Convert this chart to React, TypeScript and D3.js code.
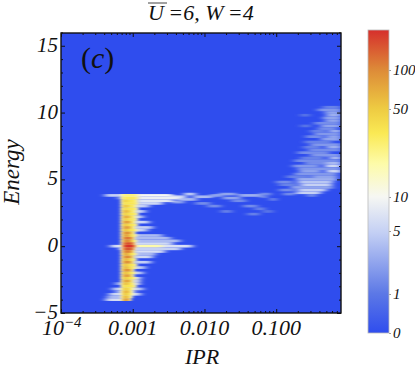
import { useEffect, useRef } from "react";
import * as d3 from "d3";

type Streak = [number, number, number, number]; // energy, ipr from, ipr to, count

const energyTicks = [-5, 0, 5, 10, 15];
const energyMinorTicks = [-4, -3, -2, -1, 1, 2, 3, 4, 6, 7, 8, 9, 11, 12, 13, 14, 16];
const iprTicks = [0.0001, 0.001, 0.01, 0.1];
const iprTickLabels = ["", "0.001", "0.010", "0.100"];
const iprMinorTicks = [
  0.0002, 0.0003, 0.0004, 0.0005, 0.0006, 0.0007, 0.0008, 0.0009, 0.002, 0.003, 0.004, 0.005,
  0.006, 0.007, 0.008, 0.009, 0.02, 0.03, 0.04, 0.05, 0.06, 0.07, 0.08, 0.09, 0.2, 0.3, 0.4, 0.5,
  0.6, 0.7,
];
const colorbarTicks = [0, 1, 5, 10, 50, 100];
const colorbarDomain = [0, 1, 5, 10, 50, 100, 250];

const colorFractions = [0, 0.13, 0.33, 0.45, 0.56, 0.66, 0.74, 0.87, 1];
const colorStops = [
  "#2f4dee", "#5c78e6", "#c3cff4", "#f6f7f3", "#fdfba8", "#fae954", "#eecb42", "#dd8a38", "#d62f2c",
];

const coreEnergies = [
  -4, -3.8, -3.6, -3.4, -3.2, -3, -2.8, -2.6, -2.4, -2.2, -2, -1.8, -1.6, -1.4, -1.2, -1, -0.8,
  -0.6, -0.4, -0.2, 0, 0.2, 0.4, 0.6, 0.8, 1, 1.2, 1.4, 1.6, 1.8, 2, 2.2, 2.4, 2.6, 2.8, 3, 3.2,
  3.4, 3.6, 3.8,
];
const coreCounts = [
  95, 70, 58, 72, 50, 44, 62, 85, 56, 92, 66, 98, 70, 60, 100, 72, 108, 80, 125, 190, 250, 200, 105,
  140, 88, 100, 62, 92, 58, 90, 56, 80, 52, 70, 46, 60, 42, 50, 38, 32,
];
const coreSpread = [
  0.00088, 0.00092, 0.00096, 0.00094, 0.00098, 0.00106, 0.00102, 0.00098, 0.00106, 0.00098,
  0.00104, 0.00098, 0.00106, 0.00108, 0.001, 0.00106, 0.001, 0.00108, 0.00102, 0.00102, 0.00108,
  0.00104, 0.00108, 0.00102, 0.00108, 0.00102, 0.0011, 0.00104, 0.0011, 0.00104, 0.0011, 0.00106,
  0.00112, 0.00106, 0.00112, 0.00108, 0.00114, 0.00112, 0.00116, 0.00116,
];
const coreBodyRight = [
  0.00088, 0.00086, 0.00084, 0.00088, 0.00085, 0.00083, 0.00087, 0.00092, 0.00085, 0.00092,
  0.00086, 0.00094, 0.00087, 0.00085, 0.00095, 0.00088, 0.00096, 0.00089, 0.00097, 0.00102,
  0.00106, 0.00102, 0.00095, 0.00098, 0.0009, 0.00094, 0.00086, 0.00092, 0.00085, 0.00092,
  0.00084, 0.0009, 0.00084, 0.00088, 0.00083, 0.00086, 0.00082, 0.00084, 0.00082, 0.00082,
];

const coreTails: Streak[] = [
  [3.8, 0.00041, 0.0011, 5], [3.8, 0.0011, 0.0036, 10], [3.6, 0.00062, 0.00075, 3],
  [3.6, 0.0011, 0.0045, 9], [3.4, 0.0011, 0.0036, 8], [3.2, 0.0011, 0.0026, 6],
  [3, 0.001, 0.0017, 5], [2.6, 0.001, 0.0015, 6], [2.2, 0.001, 0.0014, 6], [1.8, 0.001, 0.0017, 6],
  [1.4, 0.001, 0.0019, 5], [1.2, 0.001, 0.0016, 5], [0.8, 0.001, 0.0026, 4],
  [0.6, 0.001, 0.0034, 4], [0.4, 0.001, 0.0046, 4], [0.2, 0.0009, 0.0036, 6],
  [0, 0.00049, 0.0068, 7], [0, 0.001, 0.0026, 25], [-0.2, 0.00066, 0.0047, 5],
  [-0.4, 0.001, 0.0028, 7], [-0.6, 0.001, 0.0021, 4], [-0.8, 0.001, 0.0019, 6],
  [-1.2, 0.001, 0.0018, 5], [-1.6, 0.001, 0.0015, 5], [-2, 0.001, 0.0014, 5],
  [-2.4, 0.001, 0.0013, 6], [-2.6, 0.001, 0.00125, 12], [-2.8, 0.00058, 0.00075, 4],
  [-2.8, 0.001, 0.00125, 11], [-3.2, 0.00052, 0.0014, 5], [-3.4, 0.00058, 0.0011, 4],
  [-3.6, 0.00047, 0.0013, 6], [-3.8, 0.00044, 0.0009, 4], [-4, 0.00042, 0.0008, 7],
];

const bandStreaks: Streak[] = [
  [3.7, 0.0034, 0.0056, 6], [3.9, 0.0052, 0.0075, 5], [3.5, 0.0042, 0.0078, 4],
  [3.3, 0.0035, 0.0052, 3], [3.7, 0.007, 0.013, 4], [3.8, 0.012, 0.018, 3],
  [3.9, 0.016, 0.028, 3], [3.2, 0.0075, 0.012, 2], [3.6, 0.018, 0.032, 3],
  [3.8, 0.03, 0.062, 3.5], [3.4, 0.024, 0.038, 2], [3, 0.011, 0.017, 2], [3.9, 0.058, 0.085, 2],
  [2.6, 0.017, 0.024, 1.5], [3.7, 0.06, 0.075, 2], [3, 0.035, 0.055, 2], [2.4, 0.04, 0.058, 1.5],
  [2.8, 0.05, 0.07, 1.5], [3.5, 0.082, 0.1, 2], [2.6, 0.065, 0.09, 1],
];

const cloudStreaks: Streak[] = [
  [10.4, 0.45, 0.78, 1.5], [10.2, 0.38, 0.8, 2.5], [10, 0.48, 0.8, 3], [9.8, 0.22, 0.29, 1],
  [9.8, 0.5, 0.8, 3.5], [9.6, 0.45, 0.8, 3], [9.4, 0.48, 0.8, 3], [9.2, 0.34, 0.8, 2],
  [9, 0.22, 0.3, 1], [9, 0.42, 0.8, 3], [8.8, 0.38, 0.7, 2], [8.6, 0.3, 0.5, 1.5],
  [8.6, 0.55, 0.8, 3.5], [8.4, 0.34, 0.8, 2.5], [8.2, 0.26, 0.45, 2], [8.2, 0.5, 0.8, 3],
  [8, 0.42, 0.8, 3], [7.8, 0.25, 0.6, 1.5], [7.6, 0.3, 0.8, 2.5], [7.4, 0.24, 0.42, 1.5],
  [7.4, 0.5, 0.8, 3.5], [7.2, 0.28, 0.8, 2], [7, 0.2, 0.55, 2], [6.8, 0.3, 0.8, 2.5],
  [6.6, 0.22, 0.46, 1.5], [6.6, 0.55, 0.8, 4], [6.4, 0.18, 0.8, 2], [6.2, 0.25, 0.5, 2],
  [6.2, 0.5, 0.8, 4], [6, 0.17, 0.4, 2.5], [6, 0.48, 0.8, 6], [5.8, 0.2, 0.8, 2.5],
  [5.6, 0.21, 0.42, 3], [5.6, 0.5, 0.8, 6], [5.4, 0.18, 0.7, 2.5], [5.2, 0.14, 0.3, 1.5],
  [5.2, 0.32, 0.7, 3], [5, 0.19, 0.7, 3.5], [4.8, 0.1, 0.17, 2], [4.8, 0.2, 0.62, 4.5],
  [4.6, 0.11, 0.2, 1.5], [4.6, 0.22, 0.6, 5], [4.4, 0.16, 0.62, 3], [4.2, 0.11, 0.18, 2],
  [4.2, 0.2, 0.5, 5], [4, 0.19, 0.42, 5], [3.9, 0.125, 0.18, 2], [3.8, 0.27, 0.36, 2],
];

const plot = { left: 61, right: 341, top: 33, bottom: 313 };
const bar = { left: 368, right: 389, top: 30, bottom: 333 };
const font = "'Liberation Serif', 'DejaVu Serif', serif";

const x = d3.scaleLog().domain([0.0001, 0.8]).range([plot.left, plot.right]);
const y = d3.scaleLinear().domain([-5, 16]).range([plot.bottom, plot.top - 0.6]);
const barY = d3.scaleLinear<number>().domain(colorbarDomain).range([333, 294, 231, 197, 109, 70, 30]);
const fraction = (count: number) => (bar.bottom - barY(count)) / (bar.bottom - bar.top);
const ramp = d3.scaleLinear<string>().domain(colorFractions).range(colorStops).interpolate(d3.interpolateRgb);
const color = (count: number) => ramp(fraction(count));

const coreHalo: Streak[] = coreEnergies.map((e, i) => [e, 0.00069, coreSpread[i] * 1.06, 14]);
const coreWide: Streak[] = coreEnergies.map((e, i) => [e, 0.00073, coreSpread[i], Math.min(coreCounts[i], 40)]);
const coreBody: Streak[] = coreEnergies.map((e, i) => [e, 0.00074, coreBodyRight[i], coreCounts[i]]);

export default function App() {
  const svgRef = useRef<SVGSVGElement>(null);

  useEffect(() => {
    const svg = d3.select(svgRef.current);
    svg.selectAll("*").remove();

    const defs = svg.append("defs");
    defs.append("clipPath").attr("id", "plot-clip").append("rect")
      .attr("x", plot.left).attr("y", plot.top)
      .attr("width", plot.right - plot.left).attr("height", plot.bottom - plot.top);
    const blur = (id: string, dev: string) =>
      defs.append("filter").attr("id", id)
        .attr("filterUnits", "userSpaceOnUse")
        .attr("x", 0).attr("y", 0).attr("width", 415).attr("height", 372)
        .append("feGaussianBlur").attr("stdDeviation", dev);
    blur("soft", "3 0.6");
    blur("softCore", "1.9 0.45");
    const grad = defs.append("linearGradient").attr("id", "bar-grad")
      .attr("x1", 0).attr("y1", 1).attr("x2", 0).attr("y2", 0);
    colorFractions.forEach((f, i) => {
      grad.append("stop").attr("offset", f).attr("stop-color", colorStops[i]);
    });

    svg.append("rect")
      .attr("x", plot.left).attr("y", plot.top)
      .attr("width", plot.right - plot.left).attr("height", plot.bottom - plot.top)
      .attr("fill", colorStops[0]);

    const rowHeight = Math.abs(y(0.2) - y(0));
    const clip = svg.append("g").attr("clip-path", "url(#plot-clip)");
    const drawStreaks = (data: Streak[], filter: string) =>
      clip.append("g").attr("filter", `url(#${filter})`)
        .selectAll("rect").data(data).join("rect")
        .attr("x", (d) => x(d[1]))
        .attr("width", (d) => x(d[2]) - x(d[1]))
        .attr("y", (d) => y(d[0]) - rowHeight / 2)
        .attr("height", rowHeight)
        .attr("fill", (d) => color(d[3]));

    drawStreaks([...bandStreaks, ...cloudStreaks, ...coreTails], "soft");
    drawStreaks(coreHalo, "softCore");
    drawStreaks(coreWide, "softCore");
    drawStreaks(coreBody, "softCore");

    // frame and ticks
    const axes = svg.append("g").attr("font-family", font).attr("font-style", "italic");
    const addAxis = (axis: d3.Axis<any>, tx: number, ty: number) => {
      const g = axes.append("g").attr("transform", `translate(${tx},${ty})`).call(axis);
      g.select(".domain").remove();
      g.selectAll("line").attr("stroke", "#111").attr("stroke-width", 1);
      return g;
    };
    addAxis(d3.axisRight(y).tickValues(energyTicks).tickSize(4).tickFormat(() => ""), plot.left, 0);
    addAxis(d3.axisRight(y).tickValues(energyMinorTicks).tickSize(2).tickFormat(() => ""), plot.left, 0);
    addAxis(d3.axisLeft(y).tickValues(energyTicks).tickSize(4).tickFormat(() => ""), plot.right, 0);
    addAxis(d3.axisLeft(y).tickValues(energyMinorTicks).tickSize(2).tickFormat(() => ""), plot.right, 0);
    addAxis(d3.axisTop(x).tickValues(iprTicks).tickSize(4).tickFormat(() => ""), 0, plot.bottom);
    addAxis(d3.axisTop(x).tickValues(iprMinorTicks).tickSize(2).tickFormat(() => ""), 0, plot.bottom);
    addAxis(d3.axisBottom(x).tickValues(iprTicks).tickSize(4).tickFormat(() => ""), 0, plot.top);
    addAxis(d3.axisBottom(x).tickValues(iprMinorTicks).tickSize(2).tickFormat(() => ""), 0, plot.top);

    svg.append("rect")
      .attr("x", plot.left).attr("y", plot.top)
      .attr("width", plot.right - plot.left).attr("height", plot.bottom - plot.top)
      .attr("fill", "none").attr("stroke", "#111").attr("stroke-width", 1.4);

    // tick labels
    axes.selectAll(".energy-label").data(energyTicks).join("text")
      .attr("x", 58).attr("y", (d) => y(d) + 6).attr("text-anchor", "end")
      .attr("font-size", 21).attr("fill", "#111")
      .text((d) => (d < 0 ? `\u2212${-d}` : d));
    axes.selectAll(".ipr-label").data(iprTicks.slice(1)).join("text")
      .attr("x", (d) => x(d)).attr("y", 335).attr("text-anchor", "middle")
      .attr("font-size", 22).attr("fill", "#111")
      .text((_, i) => iprTickLabels[i + 1]);
    const first = axes.append("text").attr("x", 42).attr("y", 335)
      .attr("font-size", 22).attr("fill", "#111").text("10");
    first.append("tspan").attr("dy", -8).attr("font-size", 15).text("\u22124");

    // axis titles
    axes.append("text").attr("x", 202).attr("y", 364).attr("text-anchor", "middle")
      .attr("font-size", 22).attr("fill", "#111").text("IPR");
    axes.append("text").attr("transform", "translate(19,172) rotate(-90)")
      .attr("text-anchor", "middle").attr("font-size", 23).attr("fill", "#111").text("Energy");
    const panel = axes.append("text").attr("x", 81).attr("y", 68).attr("font-size", 30).attr("fill", "#111");
    panel.append("tspan").attr("font-style", "normal").text("(");
    panel.append("tspan").text("c");
    panel.append("tspan").attr("font-style", "normal").text(")");

    const title = axes.append("text").attr("x", 148).attr("y", 20).attr("font-size", 22).attr("fill", "#111");
    title.append("tspan").text("U");
    title.append("tspan").text("\u2009=6, W\u2009=4");
    axes.append("line").attr("x1", 148).attr("x2", 167).attr("y1", 3).attr("y2", 3)
      .attr("stroke", "#444").attr("stroke-width", 1);

    // colour bar
    svg.append("rect")
      .attr("x", bar.left).attr("y", bar.top)
      .attr("width", bar.right - bar.left).attr("height", bar.bottom - bar.top)
      .attr("fill", "url(#bar-grad)").attr("stroke", "#bbb").attr("stroke-width", 0.8);
    const barG = addAxis(
      d3.axisRight(barY).tickValues(colorbarTicks).tickSize(2).tickFormat((d) => String(d)),
      bar.right,
      0,
    );
    barG.selectAll("line").attr("stroke", "#999");
    barG.selectAll("text")
      .attr("x", 4).attr("font-size", 15).attr("fill", "#111").attr("font-family", font);
  }, []);

  return <svg ref={svgRef} width={415} height={372} style={{ position: "absolute", left: 0, top: 0 }} />;
}
